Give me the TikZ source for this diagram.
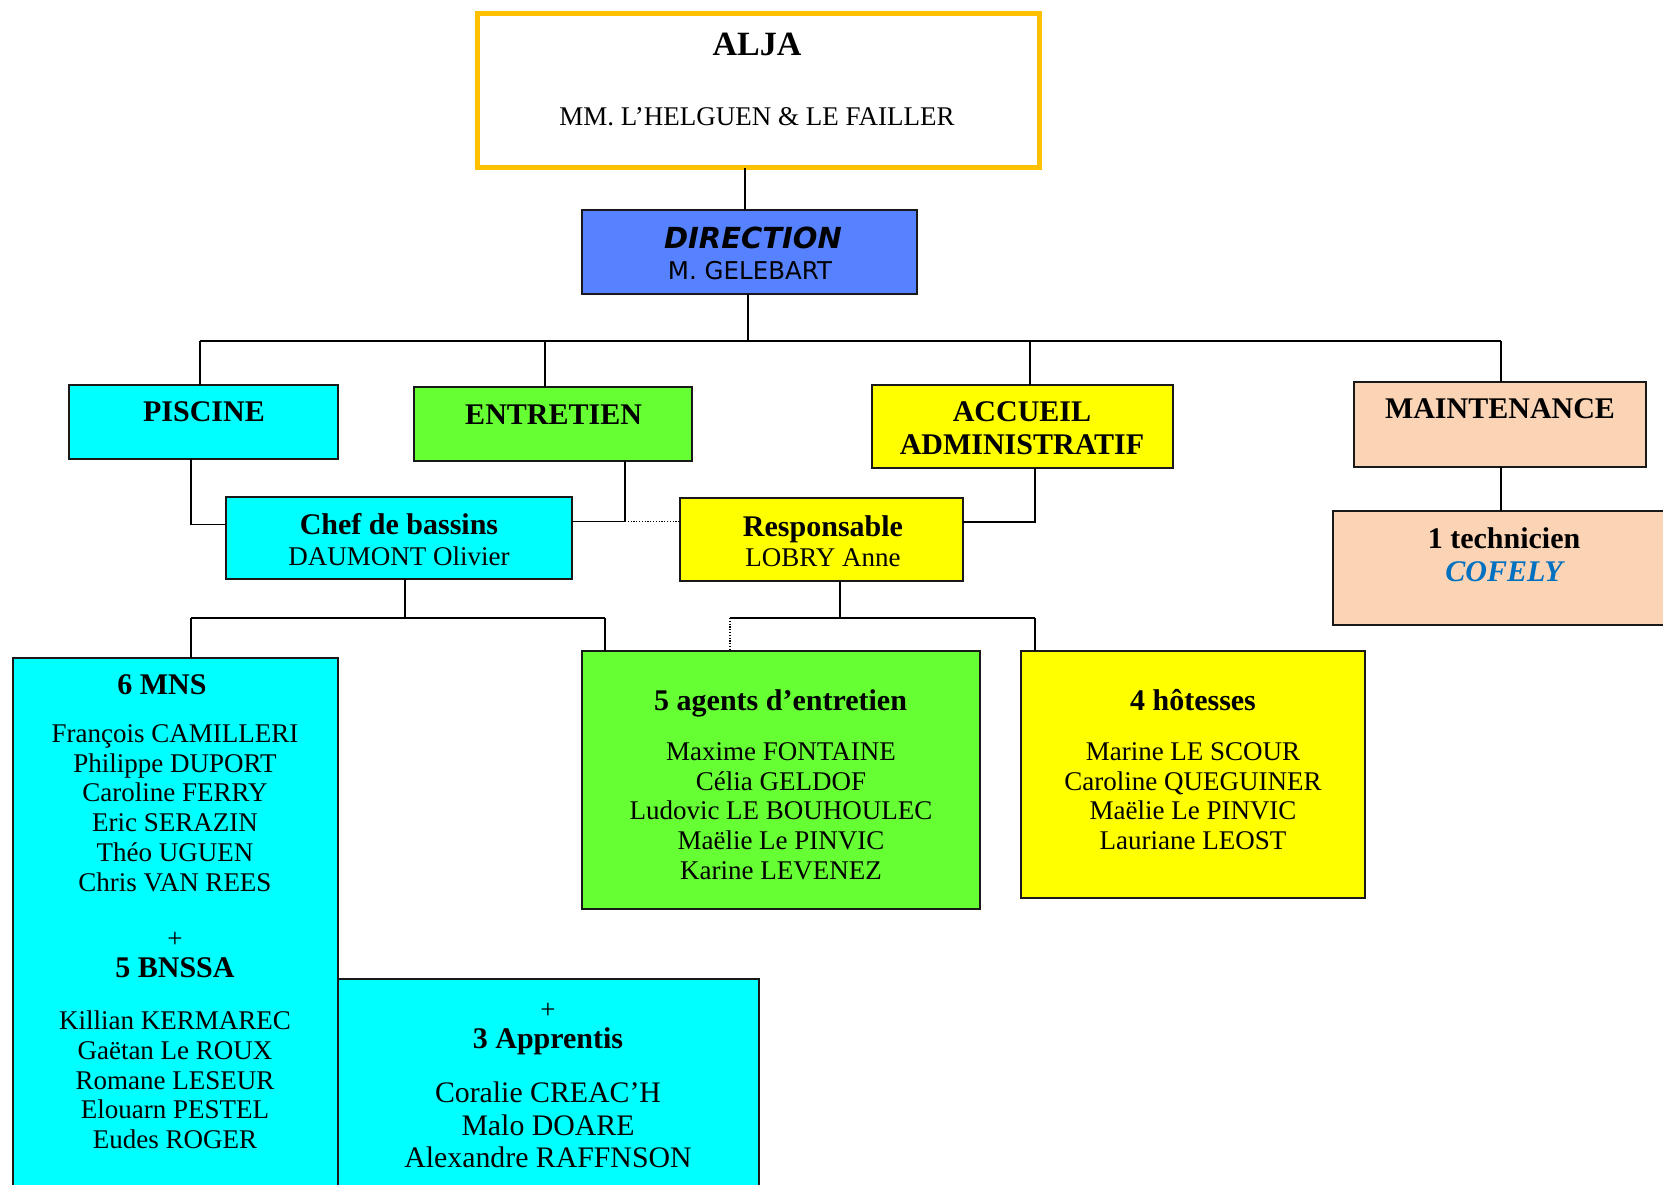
\documentclass[tikz,border=0pt]{standalone}
\usepackage{fontspec}
\setmainfont{Liberation Serif}
\newfontfamily\dirfont{DejaVu Sans}
\definecolor{cyanc}{RGB}{0,255,255}
\definecolor{greenc}{RGB}{102,255,51}
\definecolor{yellowc}{RGB}{255,255,0}
\definecolor{peachc}{RGB}{250,212,180}
\definecolor{bluec}{RGB}{87,130,255}
\definecolor{orangec}{RGB}{255,192,0}
\definecolor{cofelyc}{RGB}{0,112,192}
\definecolor{edgec}{RGB}{25,25,25}
\begin{document}
\begin{tikzpicture}[x=1pt,y=-1pt,
  box/.style={draw=edgec, line width=1.7pt, inner sep=0pt, outer sep=0pt, rectangle},
  conn/.style={draw=black, line width=1.3pt},
  dotconn/.style={draw=black, line width=1.2pt, dash pattern=on 1.2pt off 1.6pt},
  hdr/.style={font=\fontsize{30}{30.5}\selectfont\bfseries, inner sep=0pt, align=center},
  nm/.style={font=\fontsize{27}{29.7}\selectfont, inner sep=0pt, align=center},
]
\useasboundingbox (0,0) rectangle (1663,1185);
\clip (0,0) rectangle (1663,1185);

% boxes
\node[box, draw=orangec, line width=5pt, fill=white, minimum width=562pt, minimum height=154pt] (alja) at (758,91) {};
\node[box, fill=bluec, minimum width=335pt, minimum height=84pt] (dir) at (749.5,252) {};
\node[box, fill=cyanc, minimum width=269pt, minimum height=74pt] (piscine) at (203.5,422) {};
\node[box, fill=greenc, minimum width=278pt, minimum height=74pt] (entretien) at (553,424) {};
\node[box, fill=yellowc, minimum width=301pt, minimum height=83pt] (accueil) at (1022.5,426.5) {};
\node[box, fill=peachc, minimum width=292pt, minimum height=85pt] (maint) at (1500,424.5) {};
\node[box, fill=peachc, minimum width=357pt, minimum height=114pt] (tech) at (1511.5,568) {};
\node[box, fill=cyanc, minimum width=346pt, minimum height=82pt] (chef) at (399,538) {};
\node[box, fill=yellowc, minimum width=283pt, minimum height=83pt] (resp) at (821.5,539.5) {};
\node[box, fill=cyanc, minimum width=325pt, minimum height=542pt] (mns) at (175.5,929) {};
\node[box, fill=cyanc, minimum width=421pt, minimum height=221pt] (appr) at (548.5,1089.5) {};
\node[box, fill=greenc, minimum width=398pt, minimum height=258pt] (agents) at (781,780) {};
\node[box, fill=yellowc, minimum width=344pt, minimum height=247pt] (hot) at (1193,774.5) {};

% connectors
\coordinate (cA) at (745,0);
\draw[conn] (alja.south -| cA) -- (dir.north -| cA);
\coordinate (cD) at (748,341);
\draw[conn] (dir.south -| cD) -- (cD);
\coordinate (bL) at (200,341);
\coordinate (bR) at (1501,341);
\coordinate (bE) at (545,341);
\coordinate (bA) at (1030,341);
\draw[conn] (bL) -- (bR);
\draw[conn] (bL) -- (piscine.north -| bL);
\draw[conn] (bE) -- (entretien.north -| bE);
\draw[conn] (bA) -- (accueil.north -| bA);
\draw[conn] (bR) -- (maint.north -| bR);
\draw[conn] (maint.south -| bR) -- (tech.north -| bR);
\coordinate (pc) at (191,524.5);
\draw[conn] (piscine.south -| pc) -- (pc) -- (chef.west |- pc);
\coordinate (ec) at (625,521.5);
\draw[conn] (entretien.south -| ec) -- (ec) -- (chef.east |- ec);
\draw[dotconn] (ec) -- (resp.west |- ec);
\coordinate (ar) at (1035,522);
\draw[conn] (accueil.south -| ar) -- (ar) -- (resp.east |- ar);
\coordinate (cb) at (405,618);
\coordinate (cbL) at (191,618);
\coordinate (cbR) at (605,618);
\draw[conn] (chef.south -| cb) -- (cb);
\draw[conn] (cbL) -- (cbR);
\draw[conn] (cbL) -- (mns.north -| cbL);
\draw[conn] (cbR) -- (agents.north -| cbR);
\coordinate (rb) at (840,618);
\coordinate (rbL) at (730,618);
\coordinate (rbR) at (1035,618);
\draw[conn] (resp.south -| rb) -- (rb);
\draw[conn] (rbL) -- (rbR);
\draw[dotconn] (rbL) -- (agents.north -| rbL);
\draw[conn] (rbR) -- (hot.north -| rbR);

% texts
\node[font=\fontsize{34}{36}\selectfont\bfseries, inner sep=0pt, anchor=base] (aljaT) at (757,55.8) {ALJA};
\node[nm, anchor=base] (aljaN) at (757,125.6) {MM. L’HELGUEN \& LE FAILLER};
\node[font=\dirfont\fontsize{29}{30}\selectfont\bfseries\itshape, inner sep=0pt, anchor=base] (dirT) at (753,248.2) {DIRECTION};
\node[font=\dirfont\fontsize{24.5}{26}\selectfont, inner sep=0pt, anchor=base] (dirN) at (750,279.4) {M. GELEBART};

\node[hdr, anchor=base] (piscineT) at (204,421) {PISCINE};
\node[hdr, anchor=base] (entretienT) at (553.6,424) {ENTRETIEN};
\node[hdr, font=\fontsize{30}{33}\selectfont\bfseries, anchor=north] (accueilT) at (1022,401.6) {ACCUEIL\\ADMINISTRATIF};
\node[hdr, anchor=base] (maintT) at (1500,418) {MAINTENANCE};
\node[hdr, font=\fontsize{30}{33}\selectfont\bfseries, anchor=north] (techT) at (1504,527.4) {1 technicien\\{\color{cofelyc}\itshape COFELY}};

\node[hdr, anchor=north] (chefT) at (399,513.4) {Chef de bassins\\\fontsize{27}{30.5}\selectfont\mdseries DAUMONT Olivier};
\node[hdr, anchor=north] (respT) at (823,515.4) {Responsable\\\fontsize{27}{30.5}\selectfont\mdseries LOBRY Anne};

\node[hdr, anchor=base] (mnsT) at (162,694) {6 MNS};
\node[nm, anchor=north] (mnsN) at (175,724.5) {François CAMILLERI\\Philippe DUPORT\\Caroline FERRY\\Eric SERAZIN\\Théo UGUEN\\Chris VAN REES};
\node[nm, anchor=base] (plusA) at (175,947.5) {+};
\node[hdr, anchor=base] (bnssaT) at (175,977) {5 BNSSA};
\node[nm, anchor=north] (bnssaN) at (175,1010.8) {Killian KERMAREC\\Gaëtan Le ROUX\\Romane LESEUR\\Elouarn PESTEL\\Eudes ROGER};

\node[nm, anchor=base] (plusB) at (548,1018.5) {+};
\node[hdr, anchor=base] (apprT) at (548,1048.3) {3 Apprentis};
\node[nm, font=\fontsize{29.8}{32.3}\selectfont, anchor=north] (apprN) at (548,1082) {Coralie CREAC’H\\Malo DOARE\\Alexandre RAFFNSON};

\node[hdr, anchor=base] (agentsT) at (780.6,710) {5 agents d’entretien};
\node[nm, anchor=north] (agentsN) at (781,742.5) {Maxime FONTAINE\\Célia GELDOF\\Ludovic LE BOUHOULEC\\Maëlie Le PINVIC\\Karine LEVENEZ};

\node[hdr, anchor=base] (hotT) at (1193,710) {4 hôtesses};
\node[nm, anchor=north] (hotN) at (1193,742.5) {Marine LE SCOUR\\Caroline QUEGUINER\\Maëlie Le PINVIC\\Lauriane LEOST};
\end{tikzpicture}
\end{document}
